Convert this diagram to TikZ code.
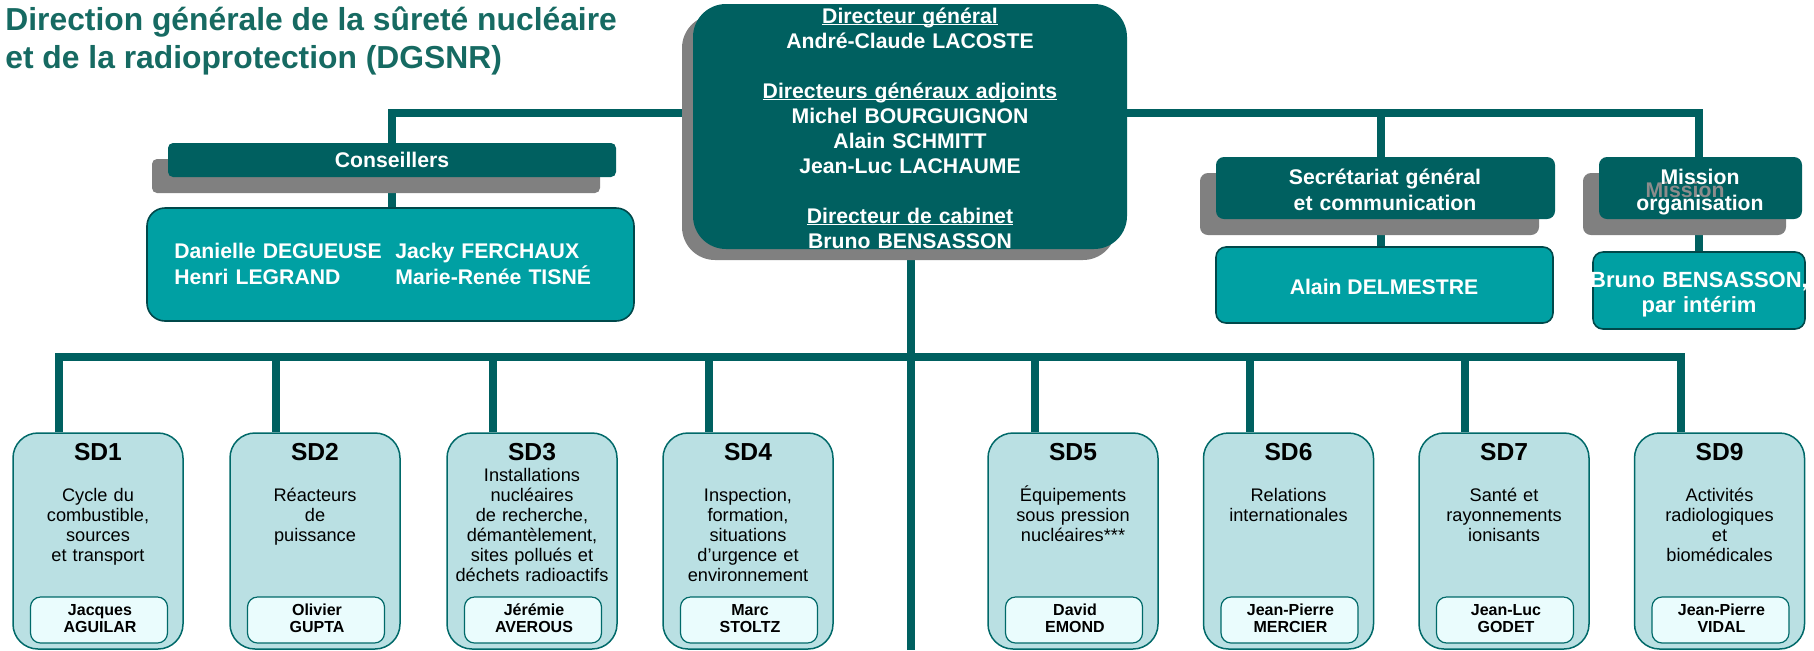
\documentclass[tikz,border=0pt]{standalone}
\usepackage{fontspec}
\setmainfont{Liberation Sans}
\usetikzlibrary{shadows}
\pgfdeclarelayer{back}
\pgfsetlayers{back,main}
\definecolor{dteal}{RGB}{0,96,96}
\definecolor{tealbox}{RGB}{0,160,163}
\definecolor{tborder}{RGB}{0,72,74}
\definecolor{sdfill}{RGB}{186,224,227}
\definecolor{sdborder}{RGB}{0,105,105}
\definecolor{nmfill}{RGB}{234,252,253}
\definecolor{shadowgray}{RGB}{128,128,128}
\definecolor{ghostgray}{RGB}{140,140,140}
\definecolor{titlecol}{RGB}{22,106,98}
\newcommand\ulx[1]{\leavevmode\setbox0=\hbox{#1}\rlap{\rule[-1.1pt]{\wd0}{0.75pt}}\box0}
\newcommand\sdunit[6]{%
  \node[sdbox] (sd#1) at (#2,541) {};
  \node[nmbox] (nm#1) at (#2+1,620) {};
  \node[sdtitle] (sdt#1) at (#2,460) {SD#1};
  \node[sddesc] (sdd#1) at (#2,#4) {#5};
  \node[nmtext] (nmt#1) at (#2+2,615) {#6};
  \coordinate (bus#1) at (#3,357);
}
\begin{document}
\begin{tikzpicture}[x=0.5pt,y=-0.5pt,
  conn/.style={draw=dteal,line width=4pt,line join=miter},
  darkbox/.style={fill=dteal,draw=none,inner sep=0,rounded corners=#1},
  shad/.style={drop shadow={shadow xshift=-#1,shadow yshift=-#1,fill=shadowgray,opacity=1}},
  tbox/.style={fill=tealbox,draw=tborder,line width=0.8pt,inner sep=0,rounded corners=#1},
  sdbox/.style={fill=sdfill,draw=sdborder,line width=0.75pt,rounded corners=12.5pt,minimum width=85pt,minimum height=108pt,inner sep=0},
  nmbox/.style={fill=nmfill,draw=sdborder,line width=0.6pt,rounded corners=5pt,minimum width=68.5pt,minimum height=23pt,inner sep=0},
  wtxt/.style={text=white,font=\fontsize{10.6pt}{12.5pt}\selectfont\bfseries,inner sep=0},
  mlines/.style={text width=#1,align=center,anchor=base},
  sdtitle/.style={font=\fontsize{12.3pt}{14pt}\selectfont\bfseries,inner sep=0,anchor=base},
  sddesc/.style={font=\fontsize{9.1pt}{10pt}\selectfont,inner sep=0,text width=90pt,align=center,anchor=base},
  nmtext/.style={font=\fontsize{8pt}{8.5pt}\selectfont\bfseries,inner sep=0,text width=68pt,align=center,anchor=base},
  ttl/.style={text=titlecol,font=\fontsize{15.9pt}{19pt}\selectfont\bfseries,inner sep=0,anchor=base west}
]
\useasboundingbox (0,0) rectangle (1814,650);

% title
\node[ttl] (title1) at (5,30) {Direction générale de la sûreté nucléaire};
\node[ttl] (title2) at (5,68) {et de la radioprotection (DGSNR)};

% director box
\node[darkbox=16.5pt,shad=5.5pt,minimum width=217pt,minimum height=122.5pt] (dir) at (910,126.5) {};
\node[wtxt,mlines=215pt] (dirt) at (910,23) {\ulx{Directeur général}\\André-Claude LACOSTE\\[12.5pt]\ulx{Directeurs généraux adjoints}\\Michel BOURGUIGNON\\Alain SCHMITT\\Jean-Luc LACHAUME\\[12.5pt]\ulx{Directeur de cabinet}\\Bruno BENSASSON};

% conseillers
\node[darkbox=2.5pt,shad=8pt,minimum width=224pt,minimum height=17pt] (cons) at (392,160) {};
\node[wtxt,anchor=base] (const) at (392,167) {Conseillers};
\node[tbox=9pt,minimum width=243.5pt,minimum height=56.5pt] (consn) at (390.5,264.5) {};
\node[wtxt,text width=120pt,align=left,anchor=base west] (consa) at (174,258) {Danielle DEGUEUSE\\[0.9pt]Henri LEGRAND};
\node[wtxt,text width=120pt,align=left,anchor=base west] (consb) at (395,258) {Jacky FERCHAUX\\[0.9pt]Marie-Renée TISNÉ};

% secretariat
\node[darkbox=4pt,shad=8pt,minimum width=169.5pt,minimum height=31pt] (sec) at (1385.5,188) {};
\node[wtxt,mlines=160pt,font=\fontsize{10.6pt}{13pt}\selectfont\bfseries] (sect) at (1385,184) {Secrétariat général\\et communication};
\node[tbox=5pt,minimum width=168.5pt,minimum height=38pt] (secn) at (1384.5,285) {};
\node[wtxt,anchor=base] (secnt) at (1384,294) {Alain DELMESTRE};

% mission
\node[darkbox=4pt,shad=8pt,minimum width=101.5pt,minimum height=31pt] (mis) at (1700.5,188) {};
\node[text=ghostgray,font=\fontsize{10.6pt}{12.5pt}\selectfont\bfseries,inner sep=0,anchor=base] (misg) at (1685,197) {Mission};
\node[wtxt,mlines=100pt,font=\fontsize{10.6pt}{13pt}\selectfont\bfseries] (mist) at (1700,184) {Mission\\organisation};
\node[tbox=5pt,minimum width=106pt,minimum height=38.5pt] (misn) at (1699,290.5) {};
\node[wtxt,mlines=120pt,font=\fontsize{11pt}{12.5pt}\selectfont\bfseries] (misnt) at (1699,287) {Bruno BENSASSON,\\par intérim};

% sub-directorates
\sdunit{1}{98}{59}{501}{Cycle du\\combustible,\\sources\\et transport}{Jacques\\AGUILAR}
\sdunit{2}{315}{276}{501}{Réacteurs\\de\\puissance}{Olivier\\GUPTA}
\sdunit{3}{532}{493}{481}{Installations\\nucléaires\\de recherche,\\démantèlement,\\sites pollués et\\déchets radioactifs}{Jérémie\\AVEROUS}
\sdunit{4}{748}{709}{501}{Inspection,\\formation,\\situations\\d’urgence et\\environnement}{Marc\\STOLTZ}
\sdunit{5}{1073}{1035}{501}{Équipements\\sous pression\\nucléaires***}{David\\EMOND}
\sdunit{6}{1288.5}{1250}{501}{Relations\\internationales}{Jean-Pierre\\MERCIER}
\sdunit{7}{1504}{1465}{501}{Santé et\\rayonnements\\ionisants}{Jean-Luc\\GODET}
\sdunit{9}{1719.5}{1681}{501}{Activités\\radiologiques\\et\\biomédicales}{Jean-Pierre\\VIDAL}

\coordinate (tL) at (392,113);
\coordinate (tS) at (1381,113);
\coordinate (tR) at (1699,113);
\coordinate (botm) at (911,650);

\begin{pgfonlayer}{back}
  \fill[white] (0,0) rectangle (1814,650);
  \draw[conn] (tL |- cons.north) -- (tL) -- (tR) -- (tR |- mis.north);
  \draw[conn] (tS) -- (tS |- sec.north);
  \draw[conn] (tL |- cons.south) -- (tL |- consn.north);
  \draw[conn] (tS |- sec.south) -- (tS |- secn.north);
  \draw[conn] (tR |- mis.south) -- (tR |- misn.north);
  \draw[conn] (botm |- dir.south) -- (botm);
  \draw[conn] (bus1 |- sd1.north) -- (bus1) -- (bus9) -- (bus9 |- sd9.north);
  \foreach \i in {2,3,4,5,6,7} {\draw[conn] (bus\i) -- (bus\i |- sd\i.north);}
\end{pgfonlayer}
\end{tikzpicture}
\end{document}
